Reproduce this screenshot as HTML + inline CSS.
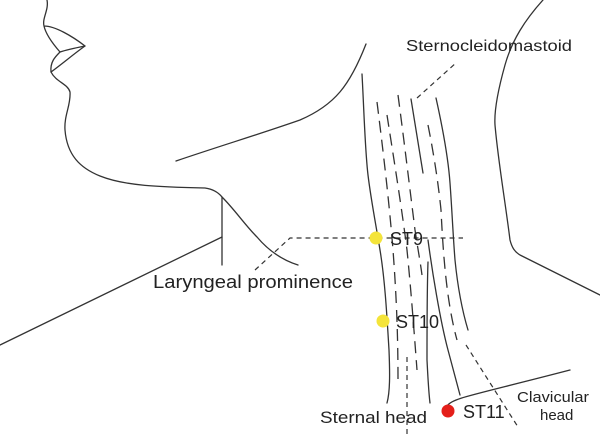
<!DOCTYPE html>
<html><head><meta charset="utf-8"><style>
html,body{margin:0;padding:0;background:#fff;}
svg{display:block}
text{font-family:"Liberation Sans",sans-serif;fill:#222;}
</style></head><body>
<svg width="600" height="438" viewBox="0 0 600 438" xmlns="http://www.w3.org/2000/svg">
<g fill="none" stroke="#333" stroke-width="1.3" stroke-linecap="round" stroke-linejoin="round">
<path d="M47,0 C49,10 42,18 44,26 C55,26 72,36 85,46 C75,48 66,50 60,52 C53,44 46,35 44,26"/>
<path d="M85,46 C75,53 62,64 51,72 C50,62 55,57 60,52"/>
<path d="M51,72 C56,82 68,84 70,92 C71,105 64,115 65,130 C67,155 80,168 100,176 C125,186 160,187 205,188 C212,189 218,192 222,197 C235,210 245,225 257,237 C268,250 282,260 298,265"/>
<path d="M222,197 L222,265"/>
<path d="M0,345 L222,237"/>
<path d="M176,161 C220,146 260,134 300,120 C335,105 350,85 366,44"/>
<path d="M543,0 C525,20 512,40 505,65 C498,90 494,110 495,125 C498,160 505,200 510,240 C512,248 515,252 520,255 L600,295"/>
<path d="M447,406 C452,398 470,396 570,370"/>
<path d="M362,74 C364,110 365,150 368,175 C371,200 376,225 380,250 C385,280 387,317 389,350 C390,375 390,392 387,403"/>
<path d="M411,99 L423,173"/>
<path d="M436,98 C442,125 448,155 450,183 C452,210 453,235 455,260 C458,290 462,310 468,330"/>
<path d="M428,240 C432,270 440,320 448,350 C452,365 456,380 460,395"/>
<path d="M428,262 C427,290 427,330 427,360 C428,380 429,395 430,403"/>
</g>
<g fill="none" stroke="#333" stroke-width="1.3" stroke-dasharray="12,7">
<path d="M377,102 C383,150 389,200 393,250 C396,290 398,330 398,380"/>
<path d="M387,115 C394,160 402,210 407,250 C411,290 414,330 417,370"/>
<path d="M398,95 C404,140 410,190 415,230 C418,250 420,260 422,275"/>
<path d="M428,125 C433,150 438,180 441,210 C443,250 446,300 457,340"/>
</g>
<g fill="none" stroke="#333" stroke-width="1.2" stroke-dasharray="5,4">
<path d="M466,345 L518,427"/>
<path d="M407,357 L407,436"/>
<path d="M417,98 L457,62"/>
<path d="M255,270 L290,238 L463,238"/>
</g>
<circle cx="376" cy="238" r="6.5" fill="#f4e43a"/>
<circle cx="383" cy="321" r="6.5" fill="#f4e43a"/>
<circle cx="448" cy="411" r="6.5" fill="#e41f1a"/>
<text x="406" y="51" font-size="16" textLength="166" lengthAdjust="spacingAndGlyphs">Sternocleidomastoid</text>
<text x="390" y="245" font-size="18">ST9</text>
<text x="153" y="288" font-size="18" textLength="200" lengthAdjust="spacingAndGlyphs">Laryngeal prominence</text>
<text x="396" y="328" font-size="18">ST10</text>
<text x="320" y="423" font-size="17" textLength="107" lengthAdjust="spacingAndGlyphs">Sternal head</text>
<text x="463" y="418" font-size="18">ST11</text>
<text x="517" y="402" font-size="15" textLength="72" lengthAdjust="spacingAndGlyphs">Clavicular</text>
<text x="540" y="420" font-size="15">head</text>
</svg>
</body></html>
